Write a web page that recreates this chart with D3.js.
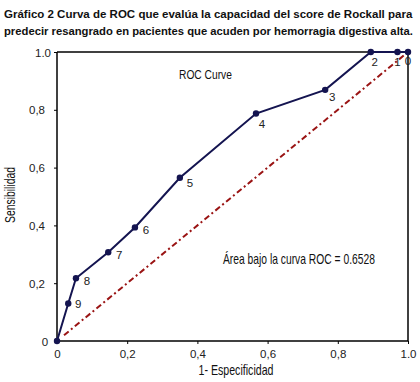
<!DOCTYPE html>
<html><head><meta charset="utf-8">
<script src="https://cdn.jsdelivr.net/npm/d3@7"></script>
<style>
html,body{margin:0;padding:0;background:#fff;}
svg{display:block;}
text{font-family:"Liberation Sans Narrow","Arial Narrow","Liberation Sans",sans-serif;}
</style></head>
<body>
<svg id="c" width="420" height="382"></svg>
<script>
const titleLines = [
  "Gráfico 2 Curva de ROC que evalúa la capacidad del score de Rockall para",
  "predecir resangrado en pacientes que acuden por hemorragia digestiva alta."
];
const pointLabels = ["0","1","2","3","4","5","6","7","8","9",""];
const fpr = [1.0, 0.97, 0.894, 0.764, 0.567, 0.350, 0.222, 0.146, 0.054, 0.032, 0.0];
const tpr = [1.0, 1.0, 1.0, 0.869, 0.787, 0.565, 0.393, 0.307, 0.217, 0.130, 0.0];
const diagonal = [0.02, 1.0];
const xTicks = [0, 0.2, 0.4, 0.6, 0.8, 1.0];
const xTickLabels = ["0", "0,2", "0,4", "0,6", "0,8", "1.0"];
const yTicks = [0, 0.2, 0.4, 0.6, 0.8, 1.0];
const yTickLabels = ["0", "0,2", "0,4", "0,6", "0,8", "1.0"];
const xTitle = "1- Especificidad";
const yTitle = "Sensibilidad";
const legendText = "ROC  Curve";
const aucText = "Área bajo la curva ROC = 0.6528";

const svg = d3.select("#c");
const L = 57, R = 408, T = 52, B = 341;
const x = d3.scaleLinear().domain([0,1]).range([L,R]);
const y = d3.scaleLinear().domain([0,1]).range([B,T]);

function fit(sel, size, target){
  sel.attr("font-size", size);
  const w = sel.node().getComputedTextLength();
  if (w > 0) sel.attr("font-size", (size*target/w).toFixed(2));
  return sel;
}
// horizontally condensed text: keeps glyph height, scales width
function squeeze(px, py, rot, text, size, target, anchor){
  const g = svg.append("g");
  const t = g.append("text").attr("font-size",size).attr("fill","#111")
    .attr("text-anchor",anchor).text(text);
  const w = t.node().getComputedTextLength();
  const s = w > 0 ? target/w : 1;
  g.attr("transform",`translate(${px},${py}) rotate(${rot}) scale(${s.toFixed(3)},1)`);
  return t;
}

// title
titleLines.forEach((t,i)=>{
  const s = svg.append("text").attr("x",4).attr("y",18+i*17.3)
    .attr("font-weight","bold").attr("fill","#111").text(t);
  fit(s, 15.5, 409);
});

// frame top & right
svg.append("line").attr("x1",L).attr("x2",R).attr("y1",T).attr("y2",T).attr("stroke","#000").attr("stroke-width",1.5);
svg.append("line").attr("x1",R).attr("x2",R).attr("y1",T).attr("y2",B).attr("stroke","#000").attr("stroke-width",1.5);

// axes
const xAxis = d3.axisBottom(x).tickValues(xTicks).tickSize(3).tickPadding(6)
  .tickFormat((d,i)=>xTickLabels[i]);
const gx = svg.append("g").attr("transform",`translate(0,${B})`).call(xAxis);
const yAxis = d3.axisLeft(y).tickValues(yTicks).tickSize(3).tickPadding(16)
  .tickFormat((d,i)=>yTickLabels[i]);
const gy = svg.append("g").attr("transform",`translate(${L},0)`).call(yAxis);
[gx,gy].forEach(g=>{
  g.select(".domain").attr("stroke","#000").attr("stroke-width",1.5);
  g.selectAll(".tick line").attr("stroke","#000");
  g.selectAll(".tick text").attr("font-size",11.5).attr("fill","#222")
    .attr("font-family","\"Liberation Sans Narrow\",\"Liberation Sans\",sans-serif");
});
gy.select(".domain").attr("d",`M0,${B}V${T}`);
gx.select(".domain").attr("d",`M${L},0H${R}`);
gy.selectAll(".tick text").attr("dy","0.35em").attr("text-anchor","middle").attr("dx",-1);
gy.selectAll(".tick text").filter((d)=>d===0).attr("dx",7);
gy.selectAll(".tick text").filter((d)=>d===1).attr("dx",5);

// axis titles
squeeze(236, 375, 0, xTitle, 14, 75, "middle");
squeeze(15, 195, -90, yTitle, 14, 56, "middle");

// diagonal
svg.append("line").attr("x1",x(diagonal[0])).attr("y1",y(diagonal[0]))
  .attr("x2",x(diagonal[1])).attr("y2",y(diagonal[1]))
  .attr("stroke","#9a1414").attr("stroke-width",2).attr("stroke-dasharray","6,3,2,3");

// ROC curve
const pts = fpr.map((f,i)=>({x:f,y:tpr[i],label:pointLabels[i]}));
svg.append("path").datum(pts).attr("fill","none").attr("stroke","#141450").attr("stroke-width",2)
  .attr("d",d3.line().x(d=>x(d.x)).y(d=>y(d.y)));
svg.selectAll("circle.pt").data(pts).enter().append("circle").attr("class","pt")
  .attr("cx",d=>x(d.x)).attr("cy",d=>y(d.y)).attr("r",3.2).attr("fill","#141450");

const labOff = [[0,13],[0,14],[4,14],[7,11],[6,14],[10,9],[11,7],[11,7],[11,7],[10,5],[0,0]];
svg.selectAll("text.pl").data(pts).enter().append("text").attr("class","pl")
  .attr("x",(d,i)=>x(d.x)+labOff[i][0]).attr("y",(d,i)=>y(d.y)+labOff[i][1])
  .attr("text-anchor","middle").attr("font-size",11.5).attr("fill","#222")
  .attr("font-family","\"Liberation Sans\",sans-serif")
  .text(d=>d.label);

// annotations
squeeze(179, 79, 0, legendText, 13.5, 53, "start");
squeeze(223, 264, 0, aucText, 14, 152, "start");
</script>
</body></html>
